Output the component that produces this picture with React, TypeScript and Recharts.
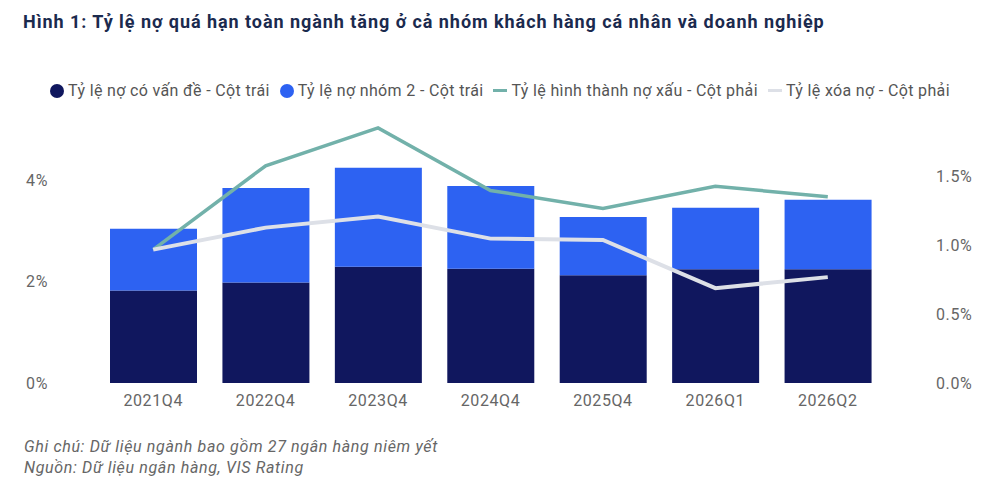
import { ComposedChart, Bar, Line, XAxis, YAxis } from "recharts";

const quarters = ["2021Q4", "2022Q4", "2023Q4", "2024Q4", "2025Q4", "2026Q1", "2026Q2"];
const problemLoans = [1.82, 1.98, 2.29, 2.25, 2.12, 2.24, 2.24];
const group2Loans = [1.22, 1.86, 1.95, 1.63, 1.15, 1.21, 1.37];
const nplFormation = [0.97, 1.58, 1.855, 1.4, 1.27, 1.43, 1.355];
const writeOff = [0.97, 1.13, 1.21, 1.05, 1.04, 0.69, 0.77];

const leftTicks = [0, 2, 4];
const rightTicks = [0, 0.5, 1, 1.5];

const data = quarters.map((q, i) => ({
  q,
  problem: problemLoans[i],
  group2: group2Loans[i],
  formation: nplFormation[i],
  writeoff: writeOff[i],
}));

const NAVY = "#10175e";
const BLUE = "#2d62f2";
const TEAL = "#72b1aa";
const GREY = "#dde0e7";
const FONT = "Roboto, 'Noto Sans', sans-serif";

const legendItems = [
  { label: "Tỷ lệ nợ có vấn đề - Cột trái", color: NAVY, kind: "dot" },
  { label: "Tỷ lệ nợ nhóm 2 - Cột trái", color: BLUE, kind: "dot" },
  { label: "Tỷ lệ hình thành nợ xấu - Cột phải", color: TEAL, kind: "line" },
  { label: "Tỷ lệ xóa nợ - Cột phải", color: GREY, kind: "line" },
];

const tickStyle = { fontSize: 16, fill: "#666", fontFamily: FONT, letterSpacing: 0.6 };

export default function App() {
  return (
    <div style={{ position: "relative", width: 1000, height: 497, background: "#fff", fontFamily: FONT }}>
      <style>{`body{margin:0}`}</style>
      <div
        style={{
          position: "absolute",
          left: 23,
          top: 11,
          fontSize: 18,
          fontWeight: 700,
          letterSpacing: 0.95,
          color: "#1b2a4e",
          whiteSpace: "nowrap",
        }}
      >
        Hình 1: Tỷ lệ nợ quá hạn toàn ngành tăng ở cả nhóm khách hàng cá nhân và doanh nghiệp
      </div>
      <div
        style={{
          position: "absolute",
          left: 0,
          top: 81,
          width: 1000,
          display: "flex",
          justifyContent: "center",
          gap: 10,
          fontSize: 16,
          letterSpacing: 0.35,
          color: "#555",
          whiteSpace: "nowrap",
        }}
      >
        {legendItems.map((it) => (
          <div key={it.label} style={{ display: "flex", alignItems: "center", gap: 4 }}>
            {it.kind === "dot" ? (
              <span style={{ width: 14, height: 14, borderRadius: 7, background: it.color, display: "inline-block" }} />
            ) : (
              <span style={{ width: 14, height: 3, background: it.color, display: "inline-block" }} />
            )}
            <span>{it.label}</span>
          </div>
        ))}
      </div>
      <div style={{ position: "absolute", left: 0, top: 0 }}>
        <ComposedChart
          width={1000}
          height={420}
          data={data}
          margin={{ top: 119, right: 0, bottom: 7, left: 0 }}
        >
          <XAxis
            dataKey="q"
            axisLine={false}
            tickLine={false}
            tick={tickStyle}
            tickMargin={6}
            height={30}
          />
          <YAxis
            yAxisId="left"
            orientation="left"
            width={97}
            domain={[0, 5.2]}
            ticks={leftTicks}
            tickFormatter={(v: number) => `${v}%`}
            axisLine={false}
            tickLine={false}
            tick={tickStyle}
            tickMargin={43}
          />
          <YAxis
            yAxisId="right"
            orientation="right"
            width={116}
            domain={[0, 1.92]}
            ticks={rightTicks}
            tickFormatter={(v: number) => `${v.toFixed(1)}%`}
            axisLine={false}
            tickLine={false}
            tick={{ ...tickStyle, textAnchor: "start" }}
            tickMargin={46}
          />
          <Bar yAxisId="left" dataKey="problem" stackId="a" fill={NAVY} barSize={87} isAnimationActive={false} />
          <Bar yAxisId="left" dataKey="group2" stackId="a" fill={BLUE} barSize={87} isAnimationActive={false} />
          <Line yAxisId="right" dataKey="formation" stroke={TEAL} strokeWidth={3.5} dot={false} type="linear" isAnimationActive={false} />
          <Line yAxisId="right" dataKey="writeoff" stroke={GREY} strokeWidth={4} dot={false} type="linear" isAnimationActive={false} />
        </ComposedChart>
      </div>
      <div
        style={{
          position: "absolute",
          left: 24,
          top: 436,
          fontSize: 16,
          fontStyle: "italic",
          letterSpacing: 0.65,
          color: "#666",
          lineHeight: "21px",
          whiteSpace: "nowrap",
        }}
      >
        <div>Ghi chú: Dữ liệu ngành bao gồm 27 ngân hàng niêm yết</div>
        <div>Nguồn: Dữ liệu ngân hàng, VIS Rating</div>
      </div>
    </div>
  );
}
